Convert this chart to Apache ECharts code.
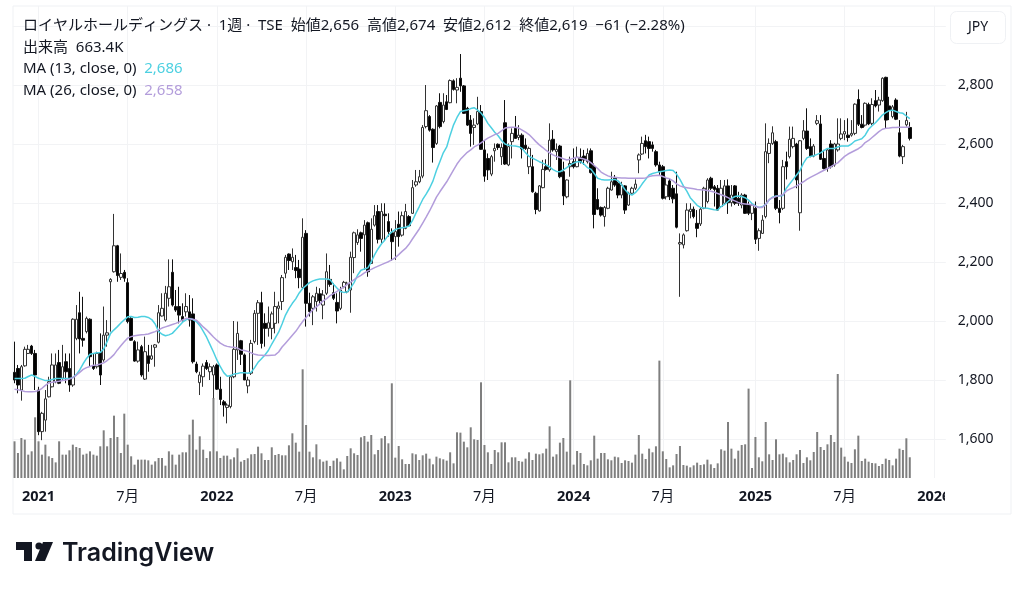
<!DOCTYPE html>
<html>
<head>
<meta charset="utf-8">
<title>ロイヤルホールディングス</title>
<script src="https://cdn.jsdelivr.net/npm/echarts@6/dist/echarts.min.js"></script>
<style>
  html, body { margin: 0; padding: 0; background: #fff; }
  #chart { width: 1024px; height: 590px; }
</style>
</head>
<body>
<div id="chart"></div>
<script>
// weekly candles
var opens = [
  1826,1839,1766,1848,1890,1915,1890,1766,1625,1664,
  1743,1777,1794,1859,1806,1862,1839,1783,1941,2028,
  1941,1964,2006,1848,1845,1893,1868,1952,2133,2167,
  2255,2148,2165,2130,2009,1930,1864,1913,1803,1882,
  1871,1911,1928,2017,2003,2077,2165,2049,2049,2015,
  2031,2031,2024,1854,1791,1811,1859,1828,1817,1851,
  1769,1726,1707,1710,1811,1902,1933,1885,1780,1823,
  1930,2026,2062,1992,1975,1975,1992,2043,2066,2162,
  2227,2201,2181,2176,2114,2297,2060,2043,2066,2092,
  2054,2094,2141,2096,2063,2043,2116,2099,2105,2215,
  2266,2299,2292,2333,2195,2325,2371,2277,2362,
  2337,2299,2286,2328,2291,2314,2354,2365,2461,2472,
  2491,2659,2693,2650,2602,2741,2676,2743,2740,2814,
  2783,2823,2797,2721,2681,2656,2668,2710,2580,2551,
  2498,2577,2599,2557,2672,2529,2608,2653,2622,2630,
  2596,2523,2523,2433,2373,2452,2523,2512,2616,2574,
  2593,2506,2421,2523,2540,2523,2555,2559,2540,2577,
  2523,2412,2385,2354,2382,2444,2484,2467,2427,2458,
  2393,2433,2450,2546,2566,2611,2608,2597,2574,2529,2523,
  2421,2475,2450,2431,2261,2258,2306,2371,2379,2331,
  2329,2382,2405,2484,2455,2450,2388,2399,2458,2401,
  2458,2416,2393,2427,2393,2365,2382,2280,2297,2354,
  2568,2602,2608,2382,2382,2540,2557,2591,2600,2367,
  2619,2644,2591,2559,2670,2668,2551,2517,2600,2529,
  2580,2619,2634,2630,2630,2636,2751,2667,2664,2734,
  2670,2747,2732,2747,2826,2729,2693,2749,2638,2557,
  2665,2656
];
var closes = [
  1800,1783,1845,1904,1904,1890,1817,1625,1687,1736,
  1794,1851,1851,1789,1845,1828,1783,2006,2006,1939,
  1935,2009,1879,1839,1890,1817,1952,1960,2141,2255,
  2154,2161,2145,1998,1935,1864,1902,1817,1896,1856,
  1882,1919,2028,2043,2094,2116,2054,2037,2020,2003,
  2049,2003,1862,1828,1817,1847,1839,1845,1845,1769,
  1734,1715,1715,1811,1904,1958,1887,1800,1800,1924,
  2026,2062,1924,1975,1994,2024,2049,2051,2147,2216,
  2205,2216,2171,2147,2284,2060,2032,2082,2094,2069,
  2088,2167,2124,2077,2034,2105,2131,2128,2216,2299,
  2292,2280,2325,2167,2311,2357,2277,2371,2357,
  2303,2269,2303,2286,2357,2371,2323,2452,2472,2489,
  2656,2713,2647,2588,2729,2659,2732,2717,2815,2785,
  2792,2797,2704,2664,2636,2664,2710,2582,2491,2512,
  2557,2585,2588,2588,2532,2591,2636,2619,2630,2583,
  2585,2585,2438,2378,2458,2514,2514,2613,2580,2582,
  2489,2424,2478,2534,2523,2555,2540,2546,2568,2503,
  2361,2379,2359,2385,2450,2472,2461,2427,2461,2376,
  2433,2450,2464,2563,2602,2591,2585,2585,2529,2506,2416,
  2461,2421,2414,2318,2266,2292,2376,2379,2354,2314,
  2379,2450,2478,2450,2446,2376,2450,2458,2401,2427,
  2399,2399,2427,2365,2365,2393,2277,2306,2342,2574,
  2602,2638,2382,2368,2523,2523,2616,2619,2478,2611,
  2645,2585,2559,2593,2679,2548,2517,2580,2523,2600,
  2600,2634,2642,2622,2636,2735,2667,2656,2738,2668,
  2734,2729,2749,2823,2681,2715,2726,2684,2559,2591,
  2680,2619
];
var highs = [
  1930,1851,1851,1913,1919,1919,1902,1777,1692,1766,
  1811,1890,1890,1902,1919,1890,1890,2009,2054,2099,
  2082,2015,2009,1890,1896,1958,2049,2003,2145,2363,
  2258,2229,2173,2145,2015,1935,1930,1919,1947,1919,
  1919,1922,2054,2094,2119,2209,2209,2105,2116,2060,
  2094,2088,2077,1862,1828,1856,1868,1856,1851,1856,
  1811,1732,1721,1817,2000,1998,1936,1890,1811,1936,
  2037,2071,2099,2026,2049,2032,2099,2066,2156,2224,
  2229,2246,2224,2207,2348,2308,2096,2088,2116,2111,
  2105,2229,2190,2128,2094,2116,2136,2133,2235,2303,
  2311,2303,2342,2337,2348,2393,2393,2399,2399,
  2365,2314,2342,2371,2371,2397,2359,2478,2512,2512,
  2664,2800,2698,2653,2732,2772,2772,2766,2819,2819,
  2823,2905,2800,2726,2698,2687,2760,2732,2611,2568,
  2563,2602,2602,2602,2749,2602,2653,2695,2664,2636,
  2619,2591,2563,2438,2461,2546,2548,2670,2647,2602,
  2597,2540,2480,2557,2585,2591,2585,2580,2585,2585,
  2534,2450,2388,2390,2455,2506,2495,2472,2472,2461,
  2438,2455,2480,2568,2625,2631,2625,2608,2580,2540,2529,
  2489,2484,2461,2506,2297,2297,2399,2399,2388,2376,
  2385,2455,2484,2489,2461,2461,2478,2478,2480,2461,
  2461,2438,2433,2431,2405,2399,2405,2314,2359,2670,
  2619,2660,2614,2410,2546,2574,2659,2659,2604,2613,
  2681,2721,2619,2600,2698,2698,2580,2585,2613,2604,
  2687,2687,2681,2687,2681,2738,2785,2698,2741,2740,
  2755,2783,2760,2826,2828,2760,2732,2755,2681,2597,
  2709,2674
];
var lows = [
  1789,1755,1730,1845,1888,1885,1766,1613,1596,1625,
  1741,1775,1789,1786,1800,1789,1760,1777,1935,1890,
  1913,1958,1845,1834,1839,1783,1862,1913,1964,2164,
  2133,2139,2133,1992,1933,1862,1859,1811,1800,1828,
  1868,1845,1924,2015,1998,2049,2049,2031,1992,1998,
  2015,1981,1856,1823,1749,1777,1834,1800,1738,1766,
  1715,1676,1653,1704,1806,1868,1851,1800,1755,1817,
  1924,1919,1907,1913,1947,1938,1958,1992,2037,2145,
  2173,2173,2145,2111,2111,1981,2015,1986,2032,2054,
  2006,2088,2116,2071,1992,2037,2111,2094,2028,2162,
  2258,2235,2173,2150,2195,2320,2263,2263,2274,
  2286,2204,2207,2252,2286,2311,2320,2363,2455,2467,
  2484,2653,2642,2537,2597,2653,2670,2715,2738,2781,
  2738,2777,2702,2661,2591,2597,2664,2580,2472,2478,
  2491,2540,2580,2529,2529,2525,2551,2619,2613,2551,
  2580,2498,2435,2362,2371,2450,2510,2506,2574,2546,
  2484,2393,2416,2489,2517,2521,2534,2529,2534,2500,
  2314,2376,2354,2320,2379,2442,2455,2416,2416,2363,
  2390,2427,2444,2501,2563,2568,2551,2574,2523,2495,2412,
  2412,2410,2399,2314,2082,2246,2303,2348,2348,2284,
  2322,2379,2399,2444,2388,2374,2385,2393,2363,2388,
  2393,2390,2382,2363,2359,2342,2261,2238,2295,2348,
  2535,2597,2376,2331,2376,2480,2551,2585,2450,2306,
  2613,2580,2555,2555,2664,2546,2514,2506,2517,2523,
  2574,2613,2613,2608,2625,2630,2661,2653,2659,2664,
  2664,2724,2710,2743,2653,2681,2687,2681,2555,2532,
  2659,2612
];
var ma13 = [
  1805,1805,1805,1806,1812,1817,1812,1806,1802,1798,
  1799,1802,1805,1805,1805,1805,1805,1808,1818,1834,
  1855,1873,1887,1890,1892,1893,1905,1930,1958,1970,
  1981,1993,2004,2014,2015,2012,2013,2015,2015,2012,
  2005,1990,1965,1955,1950,1953,1958,1970,1983,1996,
  2004,2009,2005,1998,1985,1966,1945,1920,1895,1868,
  1845,1825,1813,1815,1820,1822,1825,1825,1823,1826,
  1842,1860,1872,1885,1900,1922,1942,1962,1990,2020,
  2042,2060,2075,2095,2110,2120,2130,2136,2140,2142,
  2142,2142,2140,2125,2112,2100,2097,2098,2112,2130,
  2155,2172,2176,2180,2200,2225,2245,2262,2275,2291,
  2302,2310,2314,2316,2318,2322,2340,2365,2388,2412,
  2430,2450,2475,2510,2540,2570,2590,2630,2665,2690,
  2710,2713,2715,2720,2723,2715,2705,2690,2670,2655,
  2640,2628,2612,2600,2596,2594,2593,2591,2585,2570,
  2558,2552,2546,2540,2535,2529,2522,2513,2507,2506,
  2512,2520,2529,2535,2540,2540,2532,2520,2515,2500,
  2484,2480,2478,2478,2479,2480,2475,2462,2445,2432,
  2427,2435,2448,2465,2480,2495,2500,2503,2506,2508,2510,
  2512,2510,2498,2480,2458,2440,2418,2405,2392,2385,
  2383,2382,2380,2377,2376,2388,2395,2405,2415,2422,
  2424,2422,2418,2410,2398,2390,2385,2387,2395,2410,
  2420,2424,2424,2425,2450,2465,2480,2495,2510,2535,
  2553,2558,2560,2565,2570,2578,2585,2585,2585,2590,
  2593,2593,2593,2600,2610,2614,2618,2630,2650,2662,
  2672,2685,2698,2706,2713,2715,2710,2706,2704,2695,
  2686
];
var ma26 = [
  1769,1767,1764,1761,1760,1760,1761,1764,1772,1782,
  1790,1792,1794,1796,1798,1800,1803,1808,1816,1826,
  1836,1842,1846,1850,1851,1854,1858,1866,1875,1886,
  1902,1916,1930,1942,1947,1950,1952,1953,1954,1956,
  1960,1964,1970,1976,1980,1984,1988,1992,1997,2004,
  2009,2008,2006,2003,1992,1980,1970,1958,1946,1935,
  1925,1918,1914,1912,1911,1908,1902,1900,1897,1892,
  1887,1885,1884,1883,1883,1884,1885,1895,1912,1925,
  1938,1952,1965,1982,1998,2012,2026,2038,2048,2058,
  2068,2076,2086,2093,2100,2108,2115,2124,2132,2140,
  2148,2155,2163,2170,2175,2181,2186,2191,2196,2201,
  2207,2215,2225,2236,2246,2260,2278,2295,2312,2332,
  2352,2373,2396,2420,2438,2455,2472,2492,2512,2532,
  2548,2560,2572,2580,2590,2596,2604,2612,2620,2626,
  2632,2636,2645,2654,2656,2657,2657,2654,2647,2640,
  2632,2620,2608,2597,2588,2578,2570,2563,2558,2554,
  2550,2546,2548,2552,2555,2552,2549,2545,2537,2527,
  2517,2505,2498,2492,2488,2487,2486,2485,2485,2484,
  2484,2484,2484,2484,2485,2490,2492,2493,2494,2490,2485,
  2482,2475,2465,2458,2454,2452,2450,2448,2446,2445,
  2444,2442,2440,2437,2432,2428,2424,2418,2412,2407,
  2402,2398,2397,2396,2393,2389,2385,2385,2395,2412,
  2418,2422,2425,2428,2440,2447,2452,2458,2465,2472,
  2480,2487,2493,2499,2505,2511,2517,2523,2530,2536,
  2547,2558,2566,2572,2578,2584,2592,2605,2612,2622,
  2632,2642,2650,2653,2654,2656,2656,2657,2657,2657,
  2658
];
// volume in thousands of shares
var volumes = [
  1174,800,1280,1227,747,854,1942,1174,747,1067,
  694,640,500,1174,747,747,886,1067,992,960,
  747,779,854,747,715,1014,1526,1014,1280,1995,
  1312,800,2059,1067,694,427,587,587,587,565,
  427,533,640,640,395,854,747,427,747,822,
  822,1387,1867,907,1334,907,640,854,2561,854,
  640,715,715,598,661,950,523,576,630,758,
  768,1003,790,576,576,982,736,768,726,726,
  1046,1430,1131,843,3478,1697,843,661,1078,598,
  523,555,384,555,630,523,277,704,950,790,
  736,1302,1344,1163,1376,758,896,1270,1344,1110,
  3030,651,1024,598,448,448,790,758,576,726,
  779,619,437,683,630,598,555,822,469,1462,
  1451,1163,982,1622,1238,1216,3062,1056,822,448,
  896,822,1142,1142,501,662,662,544,523,619,
  822,576,779,758,790,939,1654,683,758,1131,
  1280,843,3126,427,864,800,448,405,566,1355,
  619,800,800,598,566,683,662,480,566,544,
  491,747,1376,779,608,939,822,1014,3756,854,
  608,341,405,768,1024,416,395,341,405,491,
  416,437,587,437,320,469,918,875,1793,939,
  619,875,1056,1078,2860,320,1312,662,534,1793,
  758,576,1238,758,779,662,501,576,758,896,
  480,662,566,832,1472,992,896,1078,1376,1152,
  3329,971,683,523,480,918,1355,544,619,523,
  480,469,384,448,619,576,405,619,939,896,
  1270,663.4
];
var tickIndex = [7, 33, 59, 85, 111, 137, 163, 189, 216, 242, 268];
var tickText = ['2021', '7月', '2022', '7月', '2023', '7月', '2024', '7月', '2025', '7月', '2026'];
var priceTicks = [1400, 3000, 200];

var BAND_COUNT = 272; // ten empty weeks to the right of the last candle
var weeks = [];
var t0 = Date.UTC(2020, 10, 16);
for (var w = 0; w < BAND_COUNT; w++) {
  weeks.push(new Date(t0 + w * 7 * 86400000).toISOString().slice(0, 10));
}
var labelByWeek = {};
tickIndex.forEach(function (idx, k) { labelByWeek[weeks[idx]] = tickText[k]; });

var candles = opens.map(function (o, i) { return [o, closes[i], lows[i], highs[i]]; });

function isTick(idx) { return tickIndex.indexOf(idx) !== -1; }

var FONT = '"Noto Sans", "Noto Sans CJK JP", sans-serif';
var INK = '#131722';
var GRID = '#f2f3f5';
var LEFT = 12.8, WIDTH = 933;

function headerLine(top, text, rich) {
  return {
    left: 23, top: top, padding: 0,
    text: text,
    textStyle: { fontFamily: FONT, fontSize: 15, fontWeight: 'normal', color: INK, rich: rich || {} }
  };
}
var valueRich = {
  k: { fontFamily: FONT, fontSize: 15, color: INK },
  c: { fontFamily: FONT, fontSize: 15, color: '#4dd0e1' },
  p: { fontFamily: FONT, fontSize: 15, color: '#b39ddb' }
};

var chart = echarts.init(document.getElementById('chart'), null, { renderer: 'canvas' });
chart.setOption({
  animation: false,
  backgroundColor: '#fff',
  title: [
    headerLine(18.5, 'ロイヤルホールディングス ·  1週 ·  TSE  始値2,656  高値2,674  安値2,612  終値2,619  −61 (−2.28%)'),
    headerLine(40.5, '出来高  663.4K'),
    headerLine(61.5, '{k|MA (13, close, 0)}  {c|2,686}', valueRich),
    headerLine(83.5, '{k|MA (26, close, 0)}  {p|2,658}', valueRich)
  ],
  grid: [
    { left: LEFT, top: 6, width: WIDTH, height: 472 },   // volume + time axis
    { left: LEFT, top: 26, width: WIDTH, height: 472 }   // price
  ],
  xAxis: [
    {
      type: 'category', gridIndex: 0, data: weeks, boundaryGap: true,
      axisLine: { show: false },
      axisTick: { show: false, alignWithLabel: true },
      splitLine: { show: true, alignWithLabel: true, interval: function (i) { return isTick(i); }, lineStyle: { color: GRID, width: 1 } },
      axisLabel: {
        interval: function (i) { return isTick(i); },
        margin: 12,
        formatter: function (v) {
          var s = labelByWeek[v] || '';
          return s.indexOf('月') > -1 ? '{m|' + s + '}' : '{y|' + s + '}';
        },
        rich: {
          y: { fontFamily: FONT, fontSize: 14.5, fontWeight: 'bold', color: INK },
          m: { fontFamily: FONT, fontSize: 14.5, color: INK }
        }
      }
    },
    { type: 'category', gridIndex: 1, data: weeks, boundaryGap: true, show: false }
  ],
  yAxis: [
    { type: 'value', gridIndex: 0, min: 0, max: 15104, show: false, splitLine: { show: false } },
    {
      type: 'value', gridIndex: 1, position: 'right',
      min: priceTicks[0], max: priceTicks[1], interval: priceTicks[2],
      axisLine: { show: false }, axisTick: { show: false },
      splitLine: { show: true, showMinLine: false, lineStyle: { color: GRID, width: 1 } },
      axisLabel: {
        margin: 12, showMinLabel: false, showMaxLabel: false,
        fontFamily: FONT, fontSize: 14, color: INK,
        formatter: function (v) { return v.toLocaleString('en-US'); }
      }
    }
  ],
  series: [
    {
      name: '出来高', type: 'bar', xAxisIndex: 0, yAxisIndex: 0,
      data: volumes, barWidth: 2, itemStyle: { color: '#7f7f7f' }, z: 1
    },
    {
      name: 'ロイヤルホールディングス', type: 'candlestick', xAxisIndex: 1, yAxisIndex: 1,
      data: candles, barWidth: 3, z: 2,
      itemStyle: { color: '#ffffff', color0: '#000000', borderColor: '#333333', borderColor0: '#111111', borderWidth: 1 }
    },
    {
      name: 'MA13', type: 'line', xAxisIndex: 1, yAxisIndex: 1, data: ma13,
      showSymbol: false, smooth: false, z: 3, lineStyle: { color: '#4dd0e1', width: 1.5 }
    },
    {
      name: 'MA26', type: 'line', xAxisIndex: 1, yAxisIndex: 1, data: ma26,
      showSymbol: false, smooth: false, z: 3, lineStyle: { color: '#b39ddb', width: 1.5 }
    }
  ],
  graphic: [
    // panel frame
    { type: 'rect', silent: true, z: 0, shape: { x: 13, y: 6, width: 998, height: 508 }, style: { fill: 'none', stroke: '#eff1f4', lineWidth: 1 } },
    // the 2026 label runs under the price scale
    { type: 'rect', silent: true, z: 50, shape: { x: 945, y: 482, width: 60, height: 30 }, style: { fill: '#fff' } },
    // currency button
    { type: 'rect', silent: true, z: 51, shape: { x: 950.5, y: 11.5, width: 55, height: 32, r: 6 }, style: { fill: '#fff', stroke: '#eff1f4', lineWidth: 1 } },
    { type: 'text', silent: true, z: 52, x: 978, y: 27, style: { text: 'JPY', fill: INK, font: '14px ' + FONT, textAlign: 'center', textVerticalAlign: 'middle' } },
    // logo
    { type: 'polygon', silent: true, z: 51, shape: { points: [[16, 542], [32, 542], [32, 561], [24, 561], [24, 550], [16, 550]] }, style: { fill: INK } },
    { type: 'circle', silent: true, z: 51, shape: { cx: 39, cy: 546, r: 3.6 }, style: { fill: INK } },
    { type: 'polygon', silent: true, z: 51, shape: { points: [[43, 542], [53, 542], [45, 561], [35, 561]] }, style: { fill: INK } },
    { type: 'text', silent: true, z: 51, x: 62, y: 553, style: { text: 'TradingView', fill: INK, font: '600 25px Inter, sans-serif', textVerticalAlign: 'middle' } }
  ]
});
</script>
</body>
</html>
